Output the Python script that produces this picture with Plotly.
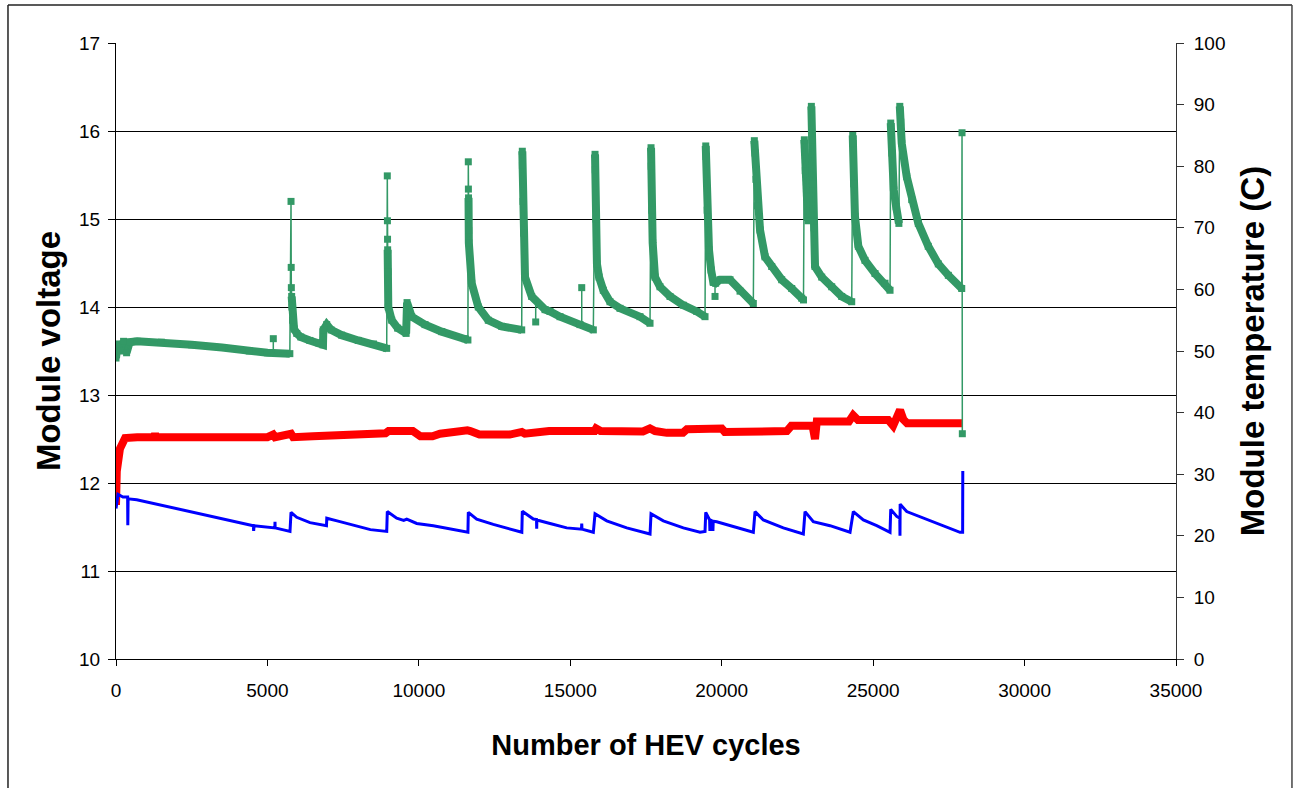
import plotly.graph_objects as go

# ---------------- data ----------------
# Green series (segments separated by None where the measurement jumps)
green_x = [
    0, 50, 150, 250, 350, 450, 700, 1500, 2500, 3500, 4400, 5000, 5740,
    None,
    5779, None, 5785, None, 5790, None,
    5800, 5810, 5830, 5880, 5970, 6100, 6400, 6700, 6835, 6845, 6957, 7100, 7450, 8000, 8500, 8939,
    None,
    8958, None, 8962, None, 8966, None,
    8970, 8980, 8991, 9104, 9300, 9580, 9610, 9764, 10203, 10755, 11524, 11620,
    None,
    11633, None, 11636, None,
    11640, 11645, 11650, 11745, 11963, 12293, 12736, 13396,
    None,
    13416, 13420, 13440, 13460, 13505, 13726, 14166, 14331, 14661, 15321, 15761,
    None,
    15817, 15825, 15850, 15880, 15950, 16091, 16312, 16642, 17302, 17633,
    None,
    17666, 17672, 17690, 17720, 17798, 17963, 18293, 18733, 19175, 19449,
    None,
    19473, 19480, 19520, 19580, 19650, 19723, 19800, 19944, 20274, 20605, 21044,
    None,
    21077, 21100, 21130, 21180, 21265, 21430, 21651, 21981, 22312, 22642, 22700,
    None,
    22728, 22760, 22800, 22850,
    None,
    22960, 22990, 23020, 23050, 23081, 23302, 23632, 23963, 24293,
    None,
    24326, 24335, 24360, 24400, 24511, 24732, 25062, 25392, 25558,
    None,
    25581, 25620, 25680, 25760, 25850,
    None,
    25880, 25910, 25944, 26109, 26274, 26492, 26820, 27152, 27483, 27925,
    None,
    27935, None, 27945,
]
green_v = [
    13.42, 13.58, 13.50, 13.61, 13.48, 13.60, 13.61, 13.60, 13.57, 13.54, 13.50, 13.48, 13.47,
    None,
    15.20, None, 14.45, None, 14.22, None,
    14.12, 14.00, 13.85, 13.75, 13.70, 13.66, 13.62, 13.59, 13.57, 13.74, 13.80, 13.74, 13.68, 13.62, 13.58, 13.53,
    None,
    15.49, None, 14.98, None, 14.77, None,
    14.65, 14.40, 14.00, 13.85, 13.76, 13.70, 14.05, 13.89, 13.80, 13.72, 13.64, 13.625,
    None,
    15.65, None, 15.34, None,
    15.24, 14.87, 14.73, 14.27, 14.00, 13.85, 13.78, 13.74,
    None,
    15.77, 15.61, 15.20, 14.84, 14.34, 14.12, 13.97, 13.95, 13.89, 13.80, 13.74,
    None,
    15.735, 15.56, 15.00, 14.49, 14.34, 14.19, 14.06, 13.985, 13.89, 13.815,
    None,
    15.81, 15.60, 15.10, 14.73, 14.34, 14.23, 14.12, 14.02, 13.95, 13.89,
    None,
    15.83, 15.71, 15.10, 14.65, 14.42, 14.28, 14.27, 14.31, 14.31, 14.18, 14.04,
    None,
    15.89, 15.75, 15.45, 15.15, 14.875, 14.57, 14.46, 14.31, 14.21, 14.10, 14.08,
    None,
    15.90, 15.55, 15.25, 14.98,
    None,
    16.28, 15.90, 15.40, 14.90, 14.46, 14.34, 14.23, 14.12, 14.06,
    None,
    15.95, 15.86, 15.40, 15.03, 14.69, 14.53, 14.38, 14.27, 14.19,
    None,
    16.09, 15.75, 15.33, 15.14, 14.95,
    None,
    16.28, 16.10, 15.86, 15.48, 15.22, 14.95, 14.69, 14.49, 14.36, 14.21,
    None,
    15.98, None, 12.56,
]
# isolated single readings of the green series
green_spike_x = [5194, 13858, 15378, 19779]
green_spike_v = [13.64, 13.83, 14.22, 14.12]
green_spike_base = [13.48, 14.08, 13.80, 14.30]

red_x = [0, 25, 130, 300, 700, 1250, 1290, 1330, 3000, 5000, 5190, 5250, 5780, 5850, 6500,
         7400, 8300, 8900, 9000, 9800, 10050, 10450, 10700, 11260, 11600, 11700, 12000, 13000,
         13400, 13500, 14300, 15800, 15850, 16000, 17400, 17630, 17800, 18190, 18720, 18850,
         20000, 20100, 20900, 21200, 22150, 22300, 23000, 23080, 23140, 24200, 24340, 24500,
         25500, 25660, 25888, 26000, 26120, 27960]
red_v = [11.75, 12.13, 12.39, 12.51, 12.52, 12.52, 12.56, 12.52, 12.52, 12.52, 12.55, 12.52,
         12.56, 12.52, 12.53, 12.545, 12.55, 12.565, 12.59, 12.59, 12.53, 12.53, 12.56, 12.59,
         12.60, 12.59, 12.55, 12.55, 12.58, 12.56, 12.59, 12.59, 12.62, 12.59, 12.585, 12.62,
         12.59, 12.57, 12.57, 12.61, 12.62, 12.58, 12.58, 12.59, 12.59, 12.65, 12.65, 12.50,
         12.70, 12.70, 12.77, 12.716, 12.716, 12.65, 12.83, 12.72, 12.68, 12.68]

blue_x = [0, 66, 230, 384, 390, 400, 684, 2004, 3104, 4534, 4545, 4560, 5245, 5250, 5255,
          5745, 5779, 5967, 6406, 6950, 6960, 7300, 8400, 8939, 8958, 9269, 9500, 9600, 9929,
          10477, 11029, 11620, 11633, 11910, 12458, 13010, 13400, 13416, 13779, 13885, 13891,
          13897, 14331, 14882, 15370, 15378, 15386, 15761, 15817, 16203, 16864, 17633, 17666,
          18072, 18733, 19284, 19449, 19473, 19600, 19610, 19620, 19700, 19710, 19720, 19835,
          20384, 21044, 21100, 21374, 22034, 22695, 22751, 23025, 23576, 24237, 24346, 24676,
          25118, 25558, 25581, 25779, 25880, 25886, 25892, 26109, 26657, 27317, 27869, 27955,
          27960]
blue_v = [11.71, 11.87, 11.84, 11.84, 11.52, 11.82, 11.81, 11.71, 11.62, 11.515, 11.455,
          11.515, 11.49, 11.56, 11.49, 11.45, 11.667, 11.61, 11.55, 11.515, 11.60, 11.57,
          11.47, 11.45, 11.675, 11.60, 11.575, 11.59, 11.54, 11.515, 11.48, 11.44, 11.667,
          11.59, 11.53, 11.48, 11.44, 11.68, 11.59, 11.585, 11.48, 11.58, 11.54, 11.49,
          11.475, 11.54, 11.475, 11.44, 11.65, 11.57, 11.49, 11.42, 11.65, 11.57, 11.49,
          11.44, 11.45, 11.667, 11.58, 11.455, 11.58, 11.565, 11.455, 11.565, 11.56, 11.505,
          11.44, 11.675, 11.58, 11.49, 11.42, 11.675, 11.56, 11.515, 11.44, 11.675, 11.58,
          11.515, 11.44, 11.70, 11.62, 11.60, 11.40, 11.76, 11.675, 11.60, 11.515, 11.44,
          11.44, 12.136]

x_ticks = [0, 5000, 10000, 15000, 20000, 25000, 30000, 35000]
y_left_ticks = [10, 11, 12, 13, 14, 15, 16, 17]
y_right_ticks = [0, 10, 20, 30, 40, 50, 60, 70, 80, 90, 100]

x_title = "Number of HEV cycles"
y_left_title = "Module voltage"
y_right_title = "Module temperature (C)"

# ---------------- figure ----------------
GREEN = "#339966"
FONT = "Liberation Sans, Arial, sans-serif"

fig = go.Figure()

fig.add_trace(go.Scatter(x=red_x, y=red_v, mode="lines",
                         line=dict(color="#FF0000", width=8), hoverinfo="skip"))
fig.add_trace(go.Scatter(x=blue_x, y=blue_v, mode="lines",
                         line=dict(color="#0000FF", width=3), hoverinfo="skip"))
# thick band of densely packed green readings
fig.add_trace(go.Scatter(x=green_x, y=green_v, mode="lines", connectgaps=False,
                         line=dict(color=GREEN, width=8), hoverinfo="skip"))
# thin connecting line and square markers of the green readings
fig.add_trace(go.Scatter(x=green_x, y=green_v, mode="lines+markers", connectgaps=True,
                         line=dict(color=GREEN, width=1.5),
                         marker=dict(symbol="square", size=7, color=GREEN)))
# isolated spikes
sx, sy = [], []
for x0, v0, b0 in zip(green_spike_x, green_spike_v, green_spike_base):
    sx += [x0, x0, None]
    sy += [b0, v0, None]
fig.add_trace(go.Scatter(x=sx, y=sy, mode="lines", line=dict(color=GREEN, width=1.5)))
fig.add_trace(go.Scatter(x=green_spike_x, y=green_spike_v, mode="markers",
                         marker=dict(symbol="square", size=7, color=GREEN)))
# secondary (temperature) axis carrier
fig.add_trace(go.Scatter(x=[None], y=[None], yaxis="y2", mode="lines", showlegend=False))

tickfont = dict(family=FONT, size=19, color="black")
xtitlefont = dict(family=FONT, size=29, color="black", weight="bold")
ytitlefont = dict(family=FONT, size=33, color="black", weight="bold")

fig.update_layout(
    width=1296, height=788, autosize=False,
    margin=dict(l=116, r=120, t=43, b=129),
    paper_bgcolor="white", plot_bgcolor="white",
    showlegend=False,
    xaxis=dict(range=[0, 35000], tickvals=x_ticks, ticktext=[str(v) for v in x_ticks],
               ticks="outside", ticklen=6, tickcolor="black", showline=True,
               linecolor="black", linewidth=1, showgrid=False, zeroline=False,
               tickfont=tickfont, ticklabelstandoff=8,
               title=dict(text=x_title, font=xtitlefont, standoff=34)),
    yaxis=dict(range=[10, 17], tickvals=y_left_ticks, ticks="outside", ticklen=7,
               tickcolor="black", showline=True, linecolor="black", linewidth=1,
               showgrid=True, gridcolor="black", gridwidth=1, zeroline=False,
               tickfont=tickfont, ticklabelstandoff=4,
               title=dict(text=y_left_title, font=ytitlefont, standoff=8)),
    yaxis2=dict(range=[0, 100], tickvals=y_right_ticks, overlaying="y", side="right",
                ticks="outside", ticklen=7, tickcolor="#333", showline=True,
                linecolor="#333", linewidth=1, showgrid=False, zeroline=False,
                tickfont=tickfont, ticklabelstandoff=6,
                title=dict(text=y_right_title, font=ytitlefont, standoff=16)),
    shapes=[
        dict(type="line", xref="paper", yref="paper", x0=-0.1019, x1=-0.1019,
             y0=-0.25, y1=1.0617, line=dict(color="#222", width=1.5)),
        dict(type="line", xref="paper", yref="paper", x0=-0.1019, x1=1.1094,
             y0=1.0617, y1=1.0617, line=dict(color="#222", width=1.5)),
        dict(type="line", xref="paper", yref="paper", x0=1.1094, x1=1.1094,
             y0=-0.25, y1=1.0617, line=dict(color="#444", width=1.5)),
    ],
)

# remove the default 8px page margin so the 1296x788 figure fills the window exactly
fig.write_html("out.html",
               config={"displayModeBar": False},
               post_script="document.body.style.margin='0';document.body.style.overflow='hidden';")
